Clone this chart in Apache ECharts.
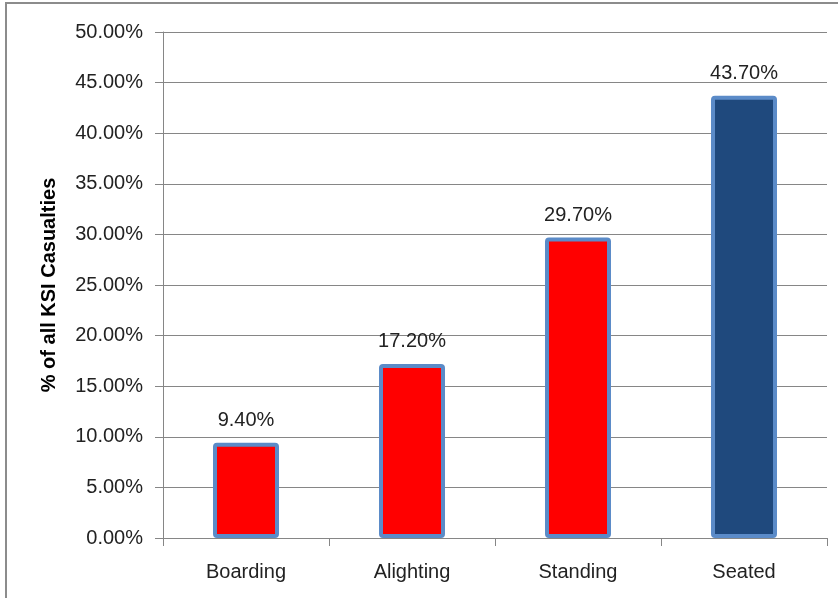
<!DOCTYPE html>
<html>
<head>
<meta charset="utf-8">
<script src="https://cdn.jsdelivr.net/npm/echarts@6/dist/echarts.min.js"></script>
<style>
  html, body { margin: 0; padding: 0; background: #fff; }
  #chart { width: 838px; height: 598px; }
</style>
</head>
<body>
<div id="chart"></div>
<script>
// categories and values (percent of all KSI casualties)
var categories = ['Boarding', 'Alighting', 'Standing', 'Seated'];
var values = [9.4, 17.2, 29.7, 43.7];
var barColors = ['#ff0000', '#ff0000', '#ff0000', '#1f497d'];

var chart = echarts.init(document.getElementById('chart'));
var font = 'Liberation Sans, Arial, sans-serif';

chart.setOption({
  animation: false,
  graphic: [{
    type: 'rect',
    shape: { x: 6, y: 3, width: 900, height: 700 },
    style: { fill: 'none', stroke: '#8c8c8c', lineWidth: 2 },
    silent: true
  }],
  grid: { left: 163, top: 32, right: 11, bottom: 60 },
  xAxis: {
    type: 'category',
    data: categories,
    axisLine: { lineStyle: { color: '#868686', width: 1 } },
    axisTick: { show: true, length: 8, alignWithLabel: false, lineStyle: { color: '#868686' } },
    axisLabel: { color: '#222', fontSize: 20, fontFamily: font, margin: 24 }
  },
  yAxis: {
    type: 'value',
    min: 0,
    max: 50,
    interval: 5,
    name: '% of all KSI Casualties',
    nameLocation: 'middle',
    nameGap: 104,
    nameRotate: 90,
    nameTextStyle: { color: '#000', fontSize: 20, fontWeight: 'bold', fontFamily: font },
    axisLine: { show: true, lineStyle: { color: '#868686', width: 1 } },
    axisTick: { show: true, length: 8, lineStyle: { color: '#868686' } },
    splitLine: { lineStyle: { color: '#868686', width: 1 } },
    axisLabel: {
      color: '#222', fontSize: 20, fontFamily: font, margin: 20,
      formatter: function (v) { return v.toFixed(2) + '%'; }
    }
  },
  series: [{
    type: 'bar',
    barWidth: 66,
    data: values.map(function (v, i) {
      return { value: v, itemStyle: { color: barColors[i] } };
    }),
    itemStyle: { borderColor: '#5b8bc8', borderWidth: 4, borderRadius: 2 },
    label: {
      show: true,
      position: 'top',
      distance: 12,
      color: '#222',
      fontSize: 20,
      fontFamily: font,
      formatter: function (p) { return p.value.toFixed(2) + '%'; }
    }
  }]
});
</script>
</body>
</html>
